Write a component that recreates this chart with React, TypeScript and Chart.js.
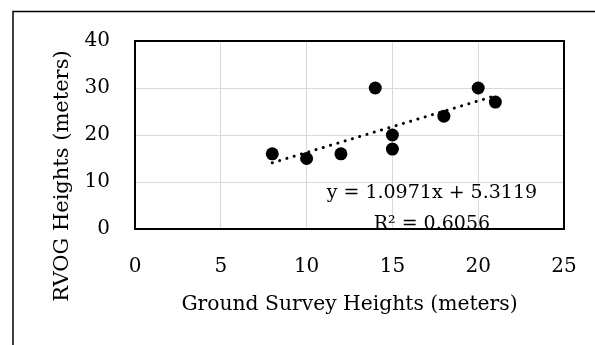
import React, { useEffect, useRef } from "react";
import { Chart, registerables } from "chart.js";

Chart.register(...registerables);

const groundHeights = [8, 10, 12, 14, 15, 15, 18, 20, 21];
const rvogHeights = [16, 15, 16, 30, 20, 17, 24, 30, 27];
const trendSlope = 1.0971;
const trendIntercept = 5.3119;
const trendRange = [8, 21];
const xTicks = [0, 5, 10, 15, 20, 25];
const yTicks = [0, 10, 20, 30, 40];
const xTitle = "Ground Survey Heights (meters)";
const yTitle = "RVOG Heights (meters)";
const eqLabel = "y = 1.0971x + 5.3119";
const r2Label = "R² = 0.6056";

const FONT = "'DejaVu Serif', serif";
const TICK_SIZE = 20;

const overlay = {
  id: "overlay",
  afterDraw(chart: any) {
    const { ctx, chartArea } = chart;
    const { left, top, right, bottom } = chartArea;
    ctx.save();
    // trendline label, clipped to plot area
    ctx.save();
    ctx.beginPath();
    ctx.rect(left, top, right - left, bottom - top);
    ctx.clip();
    ctx.fillStyle = "#000";
    ctx.font = `19px ${FONT}`;
    ctx.textAlign = "center";
    ctx.textBaseline = "middle";
    const xs = chart.scales.x;
    const ys = chart.scales.y;
    const cx = xs.getPixelForValue(17.3);
    ctx.fillText(eqLabel, cx, ys.getPixelForValue(7.7));
    ctx.fillText(r2Label, cx, ys.getPixelForValue(1.1));
    ctx.restore();
    // plot border
    ctx.strokeStyle = "#000";
    ctx.lineWidth = 2;
    ctx.strokeRect(left, top, right - left, bottom - top);
    // titles
    ctx.fillStyle = "#000";
    ctx.textAlign = "center";
    ctx.textBaseline = "middle";
    ctx.font = `20.3px ${FONT}`;
    ctx.fillText(xTitle, (left + right) / 2, 305);
    ctx.save();
    ctx.translate(63, 176);
    ctx.rotate(-Math.PI / 2);
    ctx.font = `21px ${FONT}`;
    ctx.fillText(yTitle, 0, 0);
    ctx.restore();
    // outer frame (left and top edges)
    ctx.lineWidth = 1.5;
    ctx.beginPath();
    ctx.moveTo(13, 345);
    ctx.lineTo(13, 11.5);
    ctx.lineTo(595, 11.5);
    ctx.stroke();
    ctx.restore();
  },
};

export default function App() {
  const ref = useRef<HTMLCanvasElement | null>(null);
  useEffect(() => {
    document.body.style.margin = "0";
    if (!ref.current) return;
    const chart = new Chart(ref.current, {
      type: "scatter",
      data: {
        datasets: [
          {
            label: "Heights",
            data: groundHeights.map((x, i) => ({ x, y: rvogHeights[i] })),
            backgroundColor: "#000",
            borderColor: "#000",
            borderWidth: 0,
            pointRadius: 6.5,
            order: 1,
          },
          {
            label: "Linear trend",
            type: "line",
            data: trendRange.map((x) => ({ x, y: trendSlope * x + trendIntercept })),
            borderColor: "#000",
            borderWidth: 3,
            borderDash: [0.1, 7.5],
            borderCapStyle: "round",
            pointRadius: 0,
            fill: false,
            order: 2,
          } as any,
        ],
      },
      options: {
        animation: false,
        responsive: false,
        devicePixelRatio: 1,
        layout: { padding: { top: 41, right: 31, left: 0, bottom: 0 } },
        plugins: { legend: { display: false }, tooltip: { enabled: false } },
        scales: {
          x: {
            type: "linear",
            min: 0,
            max: 25,
            afterBuildTicks: (s: any) => {
              s.ticks = xTicks.map((v) => ({ value: v }));
            },
            afterFit: (s: any) => {
              s.height = 116;
            },
            ticks: {
              font: { family: FONT, size: TICK_SIZE },
              color: "#000",
              padding: 0,
              maxRotation: 0,
            },
            grid: {
              color: "#d9d9d9",
              lineWidth: 1,
              drawTicks: true,
              tickLength: 26,
              tickColor: "rgba(0,0,0,0)",
            },
            border: { display: false },
          },
          y: {
            type: "linear",
            min: 0,
            max: 40,
            afterBuildTicks: (s: any) => {
              s.ticks = yTicks.map((v) => ({ value: v }));
            },
            afterFit: (s: any) => {
              s.width = 135;
            },
            ticks: {
              font: { family: FONT, size: TICK_SIZE },
              color: "#000",
              padding: 0,
            },
            grid: {
              color: "#d9d9d9",
              lineWidth: 1,
              drawTicks: true,
              tickLength: 25,
              tickColor: "rgba(0,0,0,0)",
            },
            border: { display: false },
          },
        },
      },
      plugins: [overlay],
    } as any);
    return () => chart.destroy();
  }, []);
  return (
    <div style={{ width: 595, height: 345, background: "#fff" }}>
      <canvas ref={ref} width={595} height={345} style={{ width: 595, height: 345, display: "block" }} />
    </div>
  );
}
